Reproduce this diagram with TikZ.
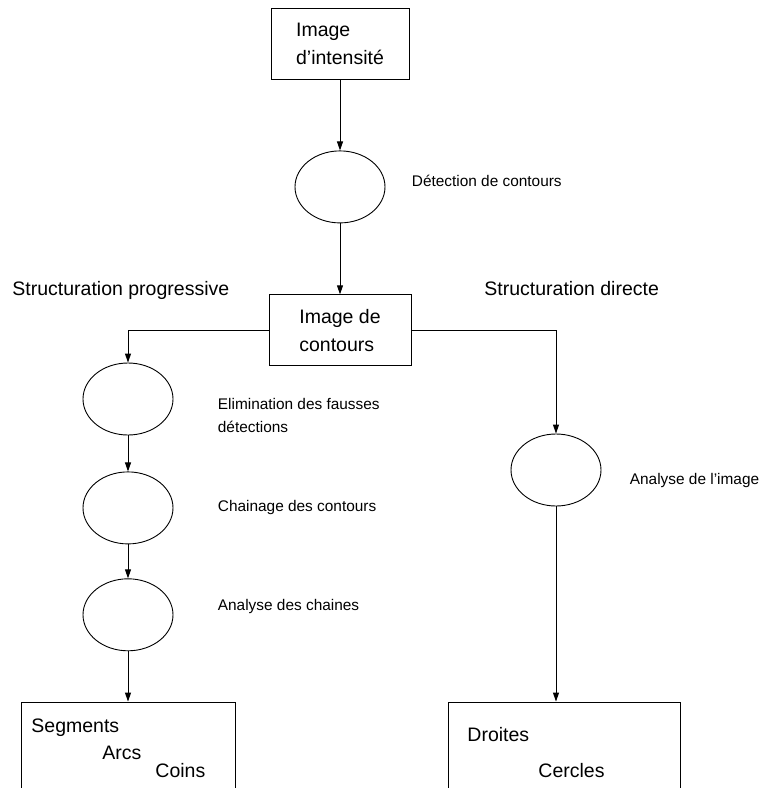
\documentclass[tikz,border=0pt]{standalone}
\usepackage{fontspec}
\setmainfont{Liberation Sans}
\usetikzlibrary{positioning,arrows.meta,shapes.geometric}

\begin{document}
\begin{tikzpicture}[
  x=1pt, y=-1pt,
  line width=0.9pt,
  font=\fontsize{19.5}{28}\selectfont,
  box/.style={draw, align=left, inner sep=0pt},
  ell/.style={draw, ellipse, minimum width=90pt, minimum height=72pt, inner sep=0pt},
  lbl/.style={font=\fontsize{15.4}{23}\selectfont, align=left, inner sep=0pt, anchor=west},
  txt/.style={anchor=base west, inner sep=0pt},
  arr/.style={-{Triangle[length=9pt,width=6pt]}}
]
\useasboundingbox (0,0) rectangle (759,788);
\node[box, minimum width=138pt, minimum height=71pt] (img) at (340,43.5) {Image\\d'intensité};
\node[ell, below=71pt of img] (detect) {};
\node[lbl, right=26pt of detect, yshift=6pt] (detecttxt) {Détection de contours};
\node[box, minimum width=142pt, minimum height=71pt, below=71pt of detect] (contours) {Image de\\contours};
\node[txt] (progtxt) at (12,295) {Structuration progressive};
\node[txt] (directtxt) at (484,295) {Structuration directe};
% structuration progressive
\node[ell] (elim) at (128,399) {};
\node[ell, below=36pt of elim] (chain) {};
\node[ell, below=34pt of chain] (anachain) {};
\node[lbl, right=44pt of elim, yshift=-16pt] (elimtxt) {Elimination des fausses\\détections};
\node[lbl, right=44pt of chain] (chaintxt) {Chainage des contours};
\node[lbl, right=44pt of anachain, yshift=8pt] (anachaintxt) {Analyse des chaines};
% structuration directe
\node[ell] (anaimg) at (556,470) {};
\node[lbl, right=28pt of anaimg, yshift=-11pt] (anaimgtxt) {Analyse de l'image};
% resultats
\node[box, minimum width=214pt, minimum height=98pt] (segbox) at (128,751) {};
\node[txt] (segtxt) at (31,732) {Segments};
\node[txt] (arctxt) at (102,759) {Arcs};
\node[txt] (cointxt) at (155,777) {Coins};
\node[box, minimum width=232pt, minimum height=98pt] (drbox) at (564,751) {};
\node[txt] (drtxt) at (467,741) {Droites};
\node[txt] (certxt) at (538,777) {Cercles};
\draw[arr] (img) -- (detect);
\draw[arr] (detect) -- (contours);
\draw[arr] (contours.west) -| (elim.north);
\draw[arr] (contours.east) -| (anaimg.north);
\draw[arr] (elim) -- (chain);
\draw[arr] (chain) -- (anachain);
\draw[arr] (anachain) -- (segbox);
\draw[arr] (anaimg) -- (anaimg |- drbox.north);
\end{tikzpicture}
\end{document}
